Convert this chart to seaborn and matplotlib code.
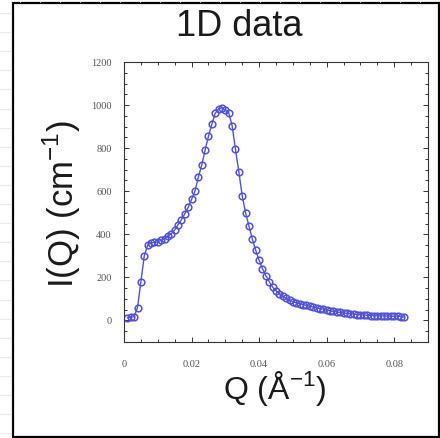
import matplotlib
matplotlib.use("Agg")
import matplotlib.pyplot as plt
from matplotlib.lines import Line2D
from matplotlib.patches import Rectangle
from matplotlib.ticker import MultipleLocator, FuncFormatter
import pandas as pd
import seaborn as sns

# Scattering vector Q (1/Angstrom) and measured intensity I(Q) (1/cm)
q_values = [
    0.001, 0.002, 0.003, 0.004, 0.005, 0.006, 0.007, 0.008, 0.009, 0.010,
    0.011, 0.012, 0.013, 0.014, 0.015, 0.016, 0.017, 0.018, 0.019, 0.020,
    0.021, 0.022, 0.023, 0.024, 0.025, 0.026, 0.027, 0.028, 0.029, 0.030,
    0.031, 0.032, 0.033, 0.034, 0.035, 0.036, 0.037, 0.038, 0.039, 0.040,
    0.041, 0.042, 0.043, 0.044, 0.045, 0.046, 0.047, 0.048, 0.049, 0.050,
    0.051, 0.052, 0.053, 0.054, 0.055, 0.056, 0.057, 0.058, 0.059, 0.060,
    0.061, 0.062, 0.063, 0.064, 0.065, 0.066, 0.067, 0.068, 0.069, 0.070,
    0.071, 0.072, 0.073, 0.074, 0.075, 0.076, 0.077, 0.078, 0.079, 0.080,
    0.081, 0.082, 0.083,
]
intensity = [
    12, 14, 18, 60, 180, 300, 350, 360, 362, 365,
    372, 380, 392, 403, 420, 445, 468, 495, 525, 562,
    600, 665, 720, 790, 855, 912, 962, 982, 988, 976,
    964, 905, 795, 690, 578, 500, 438, 378, 325, 280,
    240, 208, 180, 155, 138, 124, 112, 102, 94, 87,
    82, 78, 74, 70, 66, 62, 58, 55, 52, 48,
    45, 42, 40, 37, 35, 33, 31, 29, 27, 26,
    25, 24, 23, 22, 22, 21, 21, 20, 20, 19,
    21, 18, 15,
]
x_ticks = [0, 0.02, 0.04, 0.06, 0.08]
y_ticks = [0, 200, 400, 600, 800, 1000, 1200]

sns.set_theme(style="ticks")
plt.rcParams["font.family"] = ["Liberation Sans", "DejaVu Sans"]

W, H = 440, 438
fig = plt.figure(figsize=(W / 100, H / 100), dpi=100)
fig.patch.set_facecolor("white")

# faint worksheet grid visible around the slide edge
grid_c = "#e8e8e8"
y = 13.0
while y < H:
    fig.add_artist(Line2D([0, 11 / W], [1 - y / H, 1 - y / H], color=grid_c, lw=0.8))
    y += 19.1
fig.add_artist(Line2D([10.5 / W, 10.5 / W], [0, 1], color=grid_c, lw=0.8))
x = 20.0
while x < W:
    fig.add_artist(Line2D([x / W, x / W], [1 - 2 / H, 1], color="#f0f0f0", lw=0.6))
    x += 20.0

# slide frame
fig.add_artist(Rectangle((13 / W, 1 / H), 426 / W, 434 / H, fill=False,
                         edgecolor="black", lw=1.6))

ax = fig.add_axes([124 / W, (H - 342) / H, (428 - 124) / W, (342 - 62) / H])
df = pd.DataFrame({"Q": q_values, "I": intensity})
blue = "#5252d4"
sns.lineplot(data=df, x="Q", y="I", ax=ax, color=blue, lw=1.0,
             marker="o", markersize=4.8, markerfacecolor="none",
             markeredgecolor=blue, markeredgewidth=1.1)

ax.set_xlim(0, 0.09)
ax.set_ylim(-100, 1200)
ax.set_xticks(x_ticks)
ax.set_yticks(y_ticks)
ax.xaxis.set_minor_locator(MultipleLocator(0.005))
ax.yaxis.set_minor_locator(MultipleLocator(50))
ax.xaxis.set_major_formatter(FuncFormatter(lambda v, p: "0" if v == 0 else f"{v:.2f}"))
ax.yaxis.set_major_formatter(FuncFormatter(lambda v, p: f"{int(v)}"))
ax.tick_params(which="both", direction="in", top=True, right=True,
               color="#333333", width=0.7)
ax.tick_params(which="major", length=3.5)
ax.tick_params(which="minor", length=2)
ax.tick_params(axis="x", which="major", pad=13, labelsize=7.5, labelcolor="#555555")
ax.tick_params(axis="y", which="major", pad=9, labelsize=7.5, labelcolor="#555555")
for lab in ax.get_xticklabels() + ax.get_yticklabels():
    lab.set_family(["Liberation Serif", "DejaVu Serif"])
for s in ax.spines.values():
    s.set_linewidth(0.8)
    s.set_color("#333333")

ax.set_xlabel("")
ax.set_ylabel("")
fig.text(239 / W, 1 - 27 / H, "1D data", ha="center", va="center",
         fontsize=26, color="#1a1a1a")
fig.text(275 / W, 1 - 389 / H, "Q (Å$^{\\mathregular{-1}}$)", ha="center", va="center",
         fontsize=23, color="#1a1a1a")
fig.text(62 / W, 1 - 204 / H, "I(Q) (cm$^{\\mathregular{-1}}$)", ha="center", va="center",
         rotation=90, fontsize=25, color="#1a1a1a")

fig.savefig("out.png", dpi=100, facecolor="white")
